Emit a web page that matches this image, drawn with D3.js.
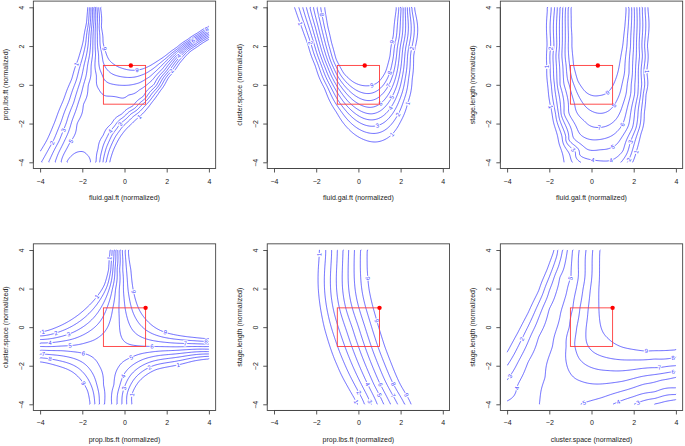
<!DOCTYPE html>
<html><head><meta charset="utf-8">
<script src="https://cdn.jsdelivr.net/npm/d3@7"></script>
<style>body{margin:0;background:#fff} text{font-family:"Liberation Sans",Arial,sans-serif}</style>
</head><body>
<svg id="c" width="685" height="446"></svg>
<script>
// ---------------- data ----------------
const levels = [1,2,3,4,5,6,7,8,9];
const tickValues = [-4,-2,0,2,4];
const xTitles = ["fluid.gal.ft (normalized)","fluid.gal.ft (normalized)","fluid.gal.ft (normalized)",
                 "prop.lbs.ft (normalized)","prop.lbs.ft (normalized)","cluster.space (normalized)"];
const yTitles = ["prop.lbs.ft (normalized)","cluster.space (normalized)","stage.length (normalized)",
                 "cluster.space (normalized)","stage.length (normalized)","stage.length (normalized)"];
const optPoints = [[0.3,1],[0.3,1],[0.3,1],[1,1],[1,1],[1,1]];
const regionBox = [-1,1,-1,1];

// contour traces: [level, [x1,y1, x2,y2, ...]]
const p1Lines = [
 [9,[-1.14,4,-1.10,3.0,-1.02,2.2,-0.85,1.55,-0.55,1.1,-0.1,0.85,0.4,0.75,0.8,0.8,1.2,0.98,1.6,1.25,2.0,1.55,2.5,1.95,3.0,2.35,3.5,2.7,4.0,3.02]],
 [8,[-1.22,4,-1.20,3.0,-1.15,2.0,-1.02,1.2,-0.75,0.7,-0.3,0.45,0.3,0.38,0.8,0.5,1.2,0.72,1.6,1.05,2.0,1.4,3.0,2.25,4.0,2.93]],
 [7,[-1.30,4,-1.29,3.0,-1.26,1.8,-1.17,0.8,-0.95,0.25,-0.5,0.02,0.2,-0.02,0.7,0.1,1.2,0.42,1.6,0.82,2.0,1.25,3.0,2.17,4.0,2.85]],
 [6,[-1.38,4,-1.38,3.0,-1.37,1.6,-1.33,0.5,-1.2,-0.25,-0.9,-0.58,-0.4,-0.62,0.2,-0.5,0.7,-0.25,1.2,0.15,1.6,0.6,2.0,1.1,2.5,1.65,3.0,2.1,3.5,2.45,4.0,2.78]],
 [5,[-1.46,4,-1.47,3.0,-1.5,2.0,-1.58,1.0,-1.72,0.0,-1.95,-1.0,-2.25,-2.0,-2.6,-3.0,-3.0,-4]],
 [3,[-1.60,4,-1.64,3.0,-1.72,2.1,-1.9,1.1,-2.1,0.15,-2.4,-0.9,-2.75,-1.95,-3.1,-2.9,-3.6,-4]],
 [1,[-1.74,4,-1.8,3.2,-1.95,2.3,-2.2,1.3,-2.5,0.3,-2.9,-0.8,-3.3,-1.9,-3.7,-2.9,-4.0,-3.45]],
 [5,[-1.35,-4,-1.25,-3.3,-1.0,-2.6,-0.6,-2.0,-0.1,-1.5,0.4,-1.1,0.9,-0.6,1.4,0.0,1.9,0.75,2.5,1.55,3.0,2.02,3.5,2.38,4.0,2.7]],
 [3,[-1.02,-4,-0.88,-3.3,-0.6,-2.6,-0.2,-2.0,0.3,-1.5,0.8,-1.05,1.3,-0.45,1.8,0.3,2.3,1.0,3.0,1.85,3.5,2.22,4.0,2.52]],
 [1,[-0.7,-4,-0.5,-3.3,-0.15,-2.6,0.3,-2.05,0.85,-1.5,1.3,-0.9,1.7,-0.3,2.1,0.4,2.6,1.1,3.0,1.6,3.5,2.0,4.0,2.35]],
 [6,[-2.75,-4,-2.45,-3.6,-2.1,-3.45,-1.8,-3.6,-1.6,-4]]];
const p1Anchors = [[-1,-4,4],[-1,-3.8,1.5],[-1,-4,-1.5],[12,0,3],[14,2,3.6],[10.5,-0.5,2.4],[-1,3,-3],[-1,4,0],[-1,2.2,-2.2],
 [6.3,-2.2,-3.85],[5.4,-1.35,-1.8],[5.45,-1.1,-1.15],[5.5,-1.75,-2.7],[5.5,-0.6,-1.0],[5.45,-1.55,-0.8]];

const p2Lines = [
 [1,[-3.03,4,-2.7,3.0,-2.4,2.1,-2.05,1.0,-1.6,-0.2,-1.05,-1.4,-0.45,-2.3,0.2,-2.8,0.85,-2.95,1.5,-2.65,2.0,-1.9,2.35,-0.9,2.55,0.3,2.62,1.5,2.66,4]],
 [5,[-2.3,4,-2.05,3.0,-1.8,2.0,-1.45,0.9,-1.0,-0.1,-0.45,-0.9,0.1,-1.35,0.62,-1.5,1.1,-1.3,1.5,-0.8,1.8,-0.1,2.0,0.8,2.12,2.0,2.22,4]],
 [9,[-1.6,4,-1.45,3.0,-1.28,2.2,-1.05,1.3,-0.7,0.6,-0.25,0.15,0.4,-0.05,0.95,0.15,1.3,0.7,1.5,1.5,1.65,2.5,1.8,4]]];
const p2Anchors = [[-4,-4,-4],[-4,4,-4],[-3,-4,0],[-3,4,0],[-2,-4,4],[-2,4,4],[12,0.2,2.6],[10.5,0.2,1.0]];

const p3Lines = [
 [9,[-0.97,4,-0.96,3.0,-0.93,2.0,-0.85,1.0,-0.65,0.2,-0.3,-0.35,0.37,-0.55,0.85,-0.3,1.15,0.3,1.35,1.2,1.5,2.2,1.58,3.0,1.64,4]],
 [7,[-1.22,4,-1.24,3.0,-1.25,2.0,-1.2,1.0,-1.05,0.0,-0.8,-1.0,-0.35,-1.85,0.37,-2.2,1.0,-1.95,1.4,-1.3,1.65,-0.4,1.78,0.6,1.85,2.0,1.9,4]],
 [5,[-1.5,4,-1.52,3.0,-1.55,1.5,-1.5,0.0,-1.3,-1.5,-0.9,-2.6,-0.3,-3.25,0.4,-3.35,1.0,-3.2,1.5,-2.6,1.85,-1.5,2.05,0.0,2.12,1.5,2.15,4]],
 [4,[-1.62,4,-1.65,2.0,-1.62,0.0,-1.45,-1.5,-1.1,-2.8,-0.6,-3.6,0.06,-3.88,0.5,-3.93,0.93,-3.9,1.5,-3.4,1.95,-2.2,2.2,-0.5,2.28,1.5,2.28,4]],
 [3,[-1.75,4,-1.78,2.0,-1.75,0.0,-1.55,-1.5,-1.2,-2.7,-0.73,-3.5,-0.5,-4]],
 [3,[1.4,-4,1.85,-2.94,2.2,-1.6,2.38,0.0,2.42,4]],
 [1,[-2.1,4,-2.12,2.5,-2.12,1.0,-2.05,-0.3,-1.9,-1.3,-1.7,-2.3,-1.45,-3.3,-1.3,-4]],
 [1,[1.95,-4,2.12,-3.46,2.35,-2.5,2.5,-1.5,2.58,-0.5,2.62,0.7,2.65,2.0,2.67,4]]];
const p3Anchors = [[-4,-4,0],[-4,4,0],[-4,-4,-4],[-4,4,-4],[-3,-4,4],[-3,4,4],[12,0.3,2.6],[10,0.3,0.8]];

const p4Lines = [
 [1,[-0.68,4,-0.75,3.0,-0.95,2.2,-1.31,1.58,-1.8,1.0,-2.5,0.4,-3.2,0.0,-4,-0.25]],
 [5,[-0.32,4,-0.35,3.0,-0.42,2.0,-0.55,1.0,-0.8,0.0,-1.2,-0.5,-1.8,-0.8,-2.58,-0.96,-3.3,-1.0,-4,-1.0]],
 [6,[-0.22,4,-0.23,3.0,-0.25,1.5,-0.25,0.5,-0.2,-0.3,0.0,-0.75,0.5,-0.95,1.3,-1.0,2.5,-1.02,4,-1.0]],
 [9,[0.19,4,0.3,3.0,0.43,1.84,0.7,0.9,1.1,0.3,1.93,-0.27,3.0,-0.5,4,-0.6]],
 [6,[-0.95,-4,-1.0,-3.0,-1.2,-2.0,-1.95,-1.36,-3.0,-1.22,-4,-1.2]],
 [9,[-1.63,-4,-1.75,-3.3,-1.95,-2.9,-2.5,-2.3,-3.2,-2.0,-4,-1.8]],
 [5,[-0.6,-4,-0.5,-3.0,-0.3,-2.1,0.32,-1.57,1.2,-1.3,2.5,-1.2,4,-1.15]],
 [1,[0.35,-4,0.35,-3.5,0.7,-2.8,1.5,-2.2,2.57,-1.95,3.3,-1.75,4,-1.65]]];
const p4Anchors = [[-3,-4,4],[14,4,4],[14,-4,-4],[-3,4,-4],[5.5,-0.6,-1.15]];

const p5Lines = [
 [1,[-1.85,4,-1.9,3.0,-1.9,2.0,-1.8,1.0,-1.62,0,-1.35,-1.0,-1.0,-2.0,-0.55,-3.0,-0.05,-4]],
 [5,[-0.73,4,-0.76,3.0,-0.75,2.0,-0.6,1.0,-0.3,0.0,0.0,-1.0,0.35,-2.0,0.75,-3.0,1.2,-4]],
 [9,[0.42,4,0.42,3.0,0.5,2.0,0.7,1.0,0.96,0.0,1.25,-1.0,1.6,-2.0,2.0,-3.0,2.5,-4]]];
const p5Anchors = [[-6,-4,0],[16,4,0],[-3,-3.5,-3.5],[14,3,3],[-4,-4,4],[15,4,-4]];

const p6Lines = [
 [1,[-4,-1.3,-3.5,-0.3,-3.0,0.75,-2.5,1.9,-2.1,3.0,-1.77,4]],
 [2,[-4,-2.0,-3.5,-1.05,-3.0,0.05,-2.5,1.25,-2.0,2.6,-1.61,4]],
 [3,[-4,-2.75,-3.5,-1.85,-3.0,-0.75,-2.5,0.5,-2.0,1.9,-1.5,3.4,-1.37,4]],
 [4,[-4,-3.85,-3.5,-3.0,-3.0,-1.8,-2.5,-0.5,-2.0,0.95,-1.5,2.6,-1.14,4]],
 [5,[-2.47,-4,-2.2,-2.6,-1.85,-1.0,-1.5,0.5,-1.2,1.7,-0.97,2.6,-0.9,4]],
 [6,[-0.58,4,-0.62,3.0,-0.72,2.0,-0.88,1.0,-1.05,0.0,-1.2,-1.0,-1.2,-1.8,-1.0,-2.4,-0.5,-2.8,0.3,-2.95,1.5,-2.8,2.7,-2.5,4,-2.3]],
 [7,[-0.26,4,-0.3,3.0,-0.4,2.0,-0.55,1.0,-0.7,0.0,-0.8,-0.9,-0.6,-1.6,-0.1,-2.05,0.8,-2.25,2.0,-2.2,3.22,-2.1,4,-2.0]],
 [8,[0.06,4,0.03,3.0,-0.05,2.0,-0.15,1.0,-0.25,0.0,-0.25,-0.7,0.1,-1.3,0.8,-1.6,2.0,-1.7,3.0,-1.65,4,-1.57]],
 [9,[0.4,4,0.38,3.0,0.35,2.0,0.35,1.0,0.45,0.0,0.8,-0.6,1.5,-1.05,2.59,-1.24,3.3,-1.22,4,-1.18]],
 [5,[-0.55,-4,0.5,-3.65,1.5,-3.3,2.5,-2.95,3.3,-2.75,4,-2.6]],
 [4,[1.0,-4,2.0,-3.6,3.0,-3.35,4,-3.15]],
 [3,[2.0,-4,3.0,-3.7,4,-3.5]],
 [2,[2.9,-4,3.5,-3.85,4,-3.75]]];
const p6Anchors = [[-3,-4,4],[13,3,3],[10.5,2,0.5],[4.5,-4,-4],[4.5,-3.3,-3.9],[5.5,-1.5,-3.5],[1.5,4,-4]];

// contour label positions: [level, x, y]
const p1Labels = [[9,0.6,0.72],[9,-0.88,1.88],[1,-2.0,1.0],[4,-0.87,-2.25],[3,-0.37,-1.9],[1,0.58,-1.5],[2,1.85,1.0],[4,2.56,1.5],[6,3.24,2.3],[8,3.9,2.85],[3,-3.0,-2.3],[2,-3.4,-3.0],[5,-2.27,-3.19]];
const p2Labels = [[1,-2.74,3.17],[2,-2.39,2.14],[8,-1.84,3.6],[9,1.52,2.23],[8,1.33,0.68],[7,1.25,0.07],[5,1.6,-0.65],[4,1.53,-1.21],[2,1.92,-1.56],[1,2.36,-0.96],[2,2.6,1.88],[3,0.93,-2.2],[1,1.64,-2.6],[9,0.61,0.1],[6,0.96,-0.87]];
const p3Labels = [[9,0.69,-0.31],[8,0.97,-1.0],[7,0.37,-2.2],[6,1.32,-1.96],[5,1.0,-3.2],[3,1.85,-2.94],[4,0.93,-3.92],[4,0.06,-3.88],[3,-0.73,-3.2],[2,-2.03,1.88],[1,-2.08,0.94],[1,-1.69,-1.1],[1,2.59,0.68],[2,1.84,-3.89],[1,2.12,-3.46]];
const p4Labels = [[1,-3.85,-0.27],[2,-3.21,-0.45],[3,-2.58,-0.6],[4,-3.53,-0.84],[5,-2.58,-0.96],[1,-1.31,1.58],[1,-0.68,3.57],[9,0.43,1.84],[9,1.93,-0.27],[7,2.88,-0.84],[8,3.86,-0.79],[6,1.3,-1.0],[6,-1.95,-1.36],[7,-3.85,-1.36],[8,-3.53,-1.67],[9,-1.95,-2.9],[5,0.32,-1.57],[4,-0.02,-2.56],[3,-0.02,-3.17],[1,0.35,-3.5],[2,1.3,-2.3],[1,2.57,-2.04]];
const p5Labels = [[1,-1.88,3.77],[9,0.42,2.53],[9,0.69,0.28],[1,-0.1,-3.86],[2,0.2,-3.3],[3,0.53,-3.86],[4,0.55,-2.91],[5,1.01,-3.51],[6,1.2,-2.91],[7,1.65,-3.55],[8,1.75,-2.91],[9,2.28,-3.51]];
const p6Labels = [[1,-3.82,-1.27],[2,-3.19,-0.66],[3,-3.82,-2.57],[4,-3.51,-3.17],[5,-0.97,2.53],[9,2.59,-1.24],[8,3.86,-1.58],[7,3.22,-2.1],[6,3.86,-2.27],[5,-0.34,-3.95],[4,1.32,-3.98],[3,2.24,-3.98],[2,3.14,-3.95]];

const lineSets = [p1Lines,p2Lines,p3Lines,p4Lines,p5Lines,p6Lines];
const anchorSets = [p1Anchors,p2Anchors,p3Anchors,p4Anchors,p5Anchors,p6Anchors];
const labelSets = [p1Labels,p2Labels,p3Labels,p4Labels,p5Labels,p6Labels];

// ---------------- layout ----------------
const colCenter = [124.5, 358.4, 591.5];
const unitX = 21.1;
const rowY = [[162.3, 7.3],[404.3, 250.0]];

// ---------------- smooth surface through the traced contours ----------------
function solve(A, b) {
  const n=b.length; const M=A.map((r,i)=>{const a=new Float64Array(n+1); a.set(r); a[n]=b[i]; return a;});
  for (let c=0;c<n;c++){
    let p=c; for(let r=c+1;r<n;r++) if(Math.abs(M[r][c])>Math.abs(M[p][c])) p=r;
    const t=M[c]; M[c]=M[p]; M[p]=t;
    const piv=M[c][c];
    for (let r=c+1;r<n;r++){ const f=M[r][c]/piv; if(f===0) continue; for(let k=c;k<=n;k++) M[r][k]-=f*M[c][k]; }
  }
  const x=new Float64Array(n);
  for (let r=n-1;r>=0;r--){ let s=M[r][n]; for(let k=r+1;k<n;k++) s-=M[r][k]*x[k]; x[r]=s/M[r][r]; }
  return x;
}
const phi = r2 => r2>1e-12 ? 0.5*r2*Math.log(r2) : 0;
function tpsSurface(lines, anchors, lambda) {
  const pts=[];
  lines.forEach(([L,arr])=>{ for(let i=0;i<arr.length;i+=2) pts.push([arr[i],arr[i+1],L]); });
  anchors.forEach(([v,x,y])=>pts.push([x,y,v]));
  const n=pts.length, m=n+3;
  const A=Array.from({length:m},()=>new Float64Array(m)), b=new Float64Array(m);
  for(let i=0;i<n;i++){
    for(let j=0;j<n;j++){ const dx=pts[i][0]-pts[j][0], dy=pts[i][1]-pts[j][1]; A[i][j]=phi(dx*dx+dy*dy); }
    A[i][i]+=lambda;
    A[i][n]=1; A[i][n+1]=pts[i][0]; A[i][n+2]=pts[i][1];
    A[n][i]=1; A[n+1][i]=pts[i][0]; A[n+2][i]=pts[i][1];
    b[i]=pts[i][2];
  }
  const w=solve(A,b);
  return (x,y)=>{ let s=w[n]+w[n+1]*x+w[n+2]*y; for(let i=0;i<n;i++){const dx=x-pts[i][0],dy=y-pts[i][1]; s+=w[i]*phi(dx*dx+dy*dy);} return s; };
}

const svg = d3.select("#c");
const N = 200;

for (let p=0; p<6; p++) {
  const row=Math.floor(p/3), col=p%3;
  const x=d3.scaleLinear().domain([-4,4]).range([colCenter[col]-4*unitX, colCenter[col]+4*unitX]);
  const y=d3.scaleLinear().domain([-4,4]).range(rowY[row]);
  const sy=(rowY[row][0]-rowY[row][1])/8;
  const g=svg.append("g");
  const f=tpsSurface(lineSets[p], anchorSets[p], 0.02);

  const vals=new Float64Array(N*N);
  for (let j=0;j<N;j++) for (let i=0;i<N;i++) vals[j*N+i]=f(-4+(i+0.5)*8/N, 4-(j+0.5)*8/N);
  const gx=v=>-4+v*8/N, gy=v=>4-v*8/N;
  const conts=d3.contours().size([N,N]).thresholds(levels)(vals);
  const onB=q=>q[0]===0||q[0]===N||q[1]===0||q[1]===N;
  const bSeg=(a,b)=>(a[0]===0&&b[0]===0)||(a[0]===N&&b[0]===N)||(a[1]===0&&b[1]===0)||(a[1]===N&&b[1]===N);
  const line=d3.line().x(d=>x(gx(d[0]))).y(d=>y(gy(d[1])));
  const runs=[];
  const keep=r=>{ if(r.length<2) return; if(r.every(onB)) return; let len=0; for(let k=1;k<r.length;k++) len+=Math.hypot(r[k][0]-r[k-1][0],r[k][1]-r[k-1][1]); if(len>6) runs.push(r); };
  conts.forEach(mp=>mp.coordinates.forEach(poly=>poly.forEach(ring=>{
    const pts=ring.slice(0,ring.length-1); const L=pts.length;
    let start=-1;
    for(let k=0;k<L;k++){ if(bSeg(pts[(k-1+L)%L],pts[k])){start=k;break;} }
    if(start<0){ keep(ring); return; }
    let cur=[];
    for(let t=0;t<=L;t++){
      const a=pts[(start+t-1+L)%L], b=pts[(start+t)%L];
      if(bSeg(a,b)){ keep(cur); cur=[b]; } else cur.push(b);
    }
    keep(cur);
  })));
  g.append("g").selectAll("path").data(runs).join("path")
    .attr("d",line).attr("fill","none").attr("stroke","#3333ff").attr("stroke-width",0.75);

  // labels
  const grad=(a,b)=>{const h=1e-3; return [(f(a+h,b)-f(a-h,b))/(2*h),(f(a,b+h)-f(a,b-h))/(2*h)];};
  labelSets[p].forEach(([L,x0,y0])=>{
    let a=x0,b=y0;
    for(let k=0;k<10;k++){ const v=f(a,b), gg=grad(a,b), n2=gg[0]*gg[0]+gg[1]*gg[1]; if(n2<1e-9) break; let s=(L-v)/n2; const st=Math.hypot(s*gg[0],s*gg[1]); if(st>0.3) s*=0.3/st; a+=s*gg[0]; b+=s*gg[1]; }
    if(Math.abs(f(a,b)-L)>0.05 || Math.hypot(a-x0,b-y0)>1.0 || Math.abs(a)>3.95 || Math.abs(b)>3.95) return;
    const gg=grad(a,b);
    let ang=Math.atan2(gg[0]*sy, gg[1]*unitX)*180/Math.PI;
    if(ang>90) ang-=180; if(ang<-90) ang+=180;
    g.append("text").attr("transform",`translate(${x(a)},${y(b)}) rotate(${ang})`)
      .attr("text-anchor","middle").attr("dy","0.35em").attr("font-size",6)
      .attr("fill","#4444ff").attr("stroke","#fff").attr("stroke-width",2).attr("paint-order","stroke")
      .text(L);
  });

  // region box and optimum point
  g.append("rect").attr("x",x(regionBox[0])).attr("y",y(regionBox[3]))
    .attr("width",x(regionBox[1])-x(regionBox[0])).attr("height",y(regionBox[2])-y(regionBox[3]))
    .attr("fill","none").attr("stroke","#ff3b3b").attr("stroke-width",0.9);
  g.append("circle").attr("cx",x(optPoints[p][0])).attr("cy",y(optPoints[p][1])).attr("r",2.2).attr("fill","#ff0000");

  // frame and axes
  const ext=4.32;
  g.append("rect").attr("x",x(-ext)).attr("y",y(ext)).attr("width",x(ext)-x(-ext)).attr("height",y(-ext)-y(ext))
    .attr("fill","none").attr("stroke","#444").attr("stroke-width",0.9);
  const xa=d3.axisBottom(x).tickValues(tickValues).tickSize(4).tickFormat(d3.format("d"));
  const ya=d3.axisLeft(y).tickValues(tickValues).tickSize(4).tickFormat(d3.format("d"));
  const gxA=g.append("g").attr("transform",`translate(0,${y(-ext)})`).call(xa);
  const gyA=g.append("g").attr("transform",`translate(${x(-ext)},0)`).call(ya);
  [gxA,gyA].forEach(a=>{ a.select(".domain").remove(); a.selectAll("line").attr("stroke","#444").attr("stroke-width",0.9);
    a.selectAll("text").attr("font-size",7).attr("fill","#222").attr("font-family","Liberation Sans, Arial, sans-serif"); });
  gxA.append("line").attr("x1",x(-4)).attr("x2",x(4)).attr("stroke","#444").attr("stroke-width",0.9);
  gyA.append("line").attr("y1",y(-4)).attr("y2",y(4)).attr("stroke","#444").attr("stroke-width",0.9);
  gxA.selectAll(".tick text").attr("dy",null).attr("y",12.5).attr("dominant-baseline","central");
  gyA.selectAll(".tick text").attr("x",null).attr("dy",null)
    .attr("transform","translate(-12,0) rotate(-90)").attr("text-anchor","middle").attr("dominant-baseline","central");
  g.append("text").attr("x",x(0)).attr("y",y(-ext)+29).attr("text-anchor","middle").attr("dominant-baseline","central")
    .attr("font-size",7).attr("fill","#222").text(xTitles[p]);
  g.append("text").attr("transform",`translate(${x(-ext)-28},${y(0)}) rotate(-90)`).attr("text-anchor","middle")
    .attr("dominant-baseline","central").attr("font-size",7).attr("fill","#222").text(yTitles[p]);
}
</script>
</body></html>
